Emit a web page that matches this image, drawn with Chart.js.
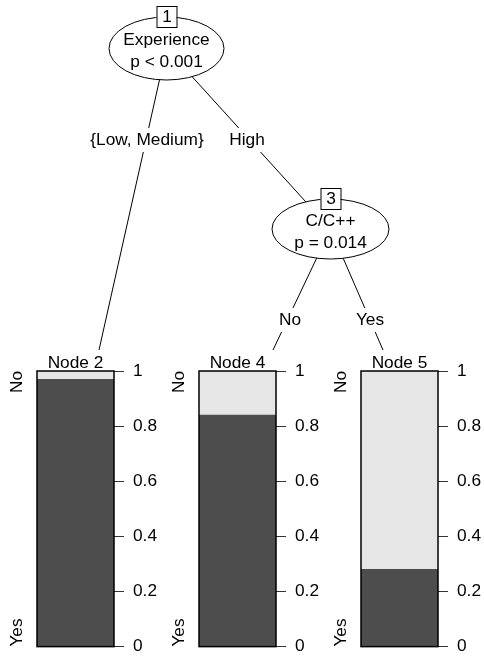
<!DOCTYPE html>
<html>
<head>
<meta charset="utf-8">
<script src="https://cdn.jsdelivr.net/npm/chart.js@4"></script>
<style>
  body { margin: 0; background: #fff; overflow: hidden; }
  #wrap { position: relative; width: 484px; height: 656px; overflow: hidden; }
  canvas { position: absolute; }
</style>
</head>
<body>
<div id="wrap">
  <canvas id="tree" width="484" height="656" style="left:0;top:0"></canvas>
  <canvas id="bar2" width="160" height="326" style="left:0;top:340px"></canvas>
  <canvas id="bar4" width="160" height="326" style="left:162px;top:340px"></canvas>
  <canvas id="bar5" width="160" height="326" style="left:324px;top:340px"></canvas>
</div>
<script>
// terminal nodes: share of Yes / No
const nodeNames = ['Node 2', 'Node 4', 'Node 5']
const yesShare = [0.97, 0.84, 0.28]
const noShare = [0.03, 0.16, 0.72]
const classes = ['Yes', 'No']
const tickValues = [0, 0.2, 0.4, 0.6, 0.8, 1]

// inner nodes and splits
const innerIds = ['1', '3']
const innerVars = ['Experience', 'C/C++']
const innerP = ['p < 0.001', 'p = 0.014']
const splitLabels = ['{Low, Medium}', 'High', 'No', 'Yes']

const FONT = '"Liberation Sans", Arial, Helvetica, sans-serif'
const FSIZE = 17.3
const dark = '#4d4d4d'
const light = '#e6e6e6'

Chart.defaults.font.family = FONT
Chart.defaults.font.size = FSIZE
Chart.defaults.color = '#000'

// tree drawing (pixel space via hidden linear scales)
const treePlugin = {
    id: 'tree',
    afterDraw(chart) {
        const c = chart.ctx
        const X = (v) => chart.scales.x.getPixelForValue(v)
        const Y = (v) => chart.scales.y.getPixelForValue(v)
        const n1 = { x: 166.5, y: 48.5, rx: 57.5, ry: 31.5 }
        const n3 = { x: 330.5, y: 229, rx: 58.5, ry: 30 }
        c.save()
        c.strokeStyle = '#000'
        c.lineWidth = 1
        const line = (a, b, d, e) => {
            c.beginPath()
            c.moveTo(X(a), Y(b))
            c.lineTo(X(d), Y(e))
            c.stroke()
        }
        line(n1.x, n1.y, 99, 350)
        line(n1.x, n1.y, n3.x, n3.y)
        line(n3.x, n3.y, 273, 350)
        line(n3.x, n3.y, 383, 350)

        c.font = FSIZE + 'px ' + FONT
        c.textAlign = 'center'
        c.textBaseline = 'middle'
        const label = (t, x, y) => {
            const w = c.measureText(t).width
            c.fillStyle = '#fff'
            c.fillRect(X(x) - w / 2 - 2, Y(y) - 12, w + 4, 24)
            c.fillStyle = '#000'
            c.fillText(t, X(x), Y(y))
        }
        label(splitLabels[0], 147, 140)
        label(splitLabels[1], 247, 140)
        label(splitLabels[2], 290, 320)
        label(splitLabels[3], 370, 320)

        const inner = (n, i) => {
            c.beginPath()
            c.ellipse(X(n.x), Y(n.y), n.rx, n.ry, 0, 0, Math.PI * 2)
            c.fillStyle = '#fff'
            c.fill()
            c.stroke()
            c.fillStyle = '#000'
            c.fillText(innerVars[i], X(n.x), Y(n.y) - 8)
            c.fillText(innerP[i], X(n.x), Y(n.y) + 14)
            const bx = X(n.x) - 10
            const by = Y(n.y - n.ry) - 11
            c.fillStyle = '#fff'
            c.fillRect(bx, by, 20, 21)
            c.strokeRect(bx + 0.5, by + 0.5, 20, 21)
            c.fillStyle = '#000'
            c.fillText(innerIds[i], bx + 10.5, by + 11.5)
        }
        inner(n1, 0)
        inner(n3, 1)
        c.restore()
    },
}

new Chart(document.getElementById('tree'), {
    type: 'scatter',
    data: { datasets: [] },
    options: {
        responsive: false,
        animation: false,
        events: [],
        layout: { padding: 0 },
        plugins: { legend: { display: false }, tooltip: { enabled: false } },
        scales: {
            x: { type: 'linear', min: 0, max: 484, display: false },
            y: { type: 'linear', min: 0, max: 656, reverse: true, display: false },
        },
    },
    plugins: [treePlugin],
})

// frame, node title and class labels for each bar panel
const panelPlugin = {
    id: 'panel',
    afterDatasetsDraw(chart) {
        const c = chart.ctx
        const a = chart.chartArea
        c.save()
        c.strokeStyle = '#000'
        c.lineWidth = 1.5
        c.strokeRect(a.left, a.top, a.right - a.left, a.bottom - a.top)
        c.fillStyle = '#000'
        c.font = FSIZE + 'px ' + FONT
        c.textAlign = 'center'
        c.textBaseline = 'bottom'
        c.fillText(chart.config.options.nodeName, (a.left + a.right) / 2, a.top + 1)
        c.translate(a.left - 20, 0)
        c.rotate(-Math.PI / 2)
        c.textBaseline = 'middle'
        c.textAlign = 'right'
        c.fillText(classes[1], -a.top, 0)
        c.textAlign = 'left'
        c.fillText(classes[0], -a.bottom, 0)
        c.restore()
    },
}

nodeNames.forEach((name, i) => {
    const id = 'bar' + name.split(' ')[1]
    new Chart(document.getElementById(id), {
        type: 'bar',
        data: {
            labels: [name],
            datasets: [
                { label: classes[0], data: [yesShare[i]], backgroundColor: dark, borderWidth: 0 },
                { label: classes[1], data: [noShare[i]], backgroundColor: light, borderWidth: 0 },
            ],
        },
        options: {
            nodeName: name,
            responsive: false,
            animation: false,
            events: [],
            layout: { padding: { left: 37, top: 31, bottom: 10, right: 0 } },
            datasets: { bar: { barPercentage: 1, categoryPercentage: 1 } },
            plugins: { legend: { display: false }, tooltip: { enabled: false } },
            scales: {
                x: { stacked: true, display: false },
                y: {
                    stacked: true,
                    position: 'right',
                    min: 0,
                    max: 1,
                    afterFit: (axis) => { axis.width = 46 },
                    afterBuildTicks: (axis) => {
                        axis.ticks = tickValues.map((v) => ({ value: v }))
                    },
                    ticks: {
                        padding: 9,
                        color: '#000',
                        callback: (v) => String(v),
                    },
                    grid: {
                        drawOnChartArea: false,
                        tickLength: 10,
                        tickColor: '#333',
                        tickWidth: 1,
                    },
                    border: { display: false },
                },
            },
        },
        plugins: [panelPlugin],
    })
})
</script>
</body>
</html>
